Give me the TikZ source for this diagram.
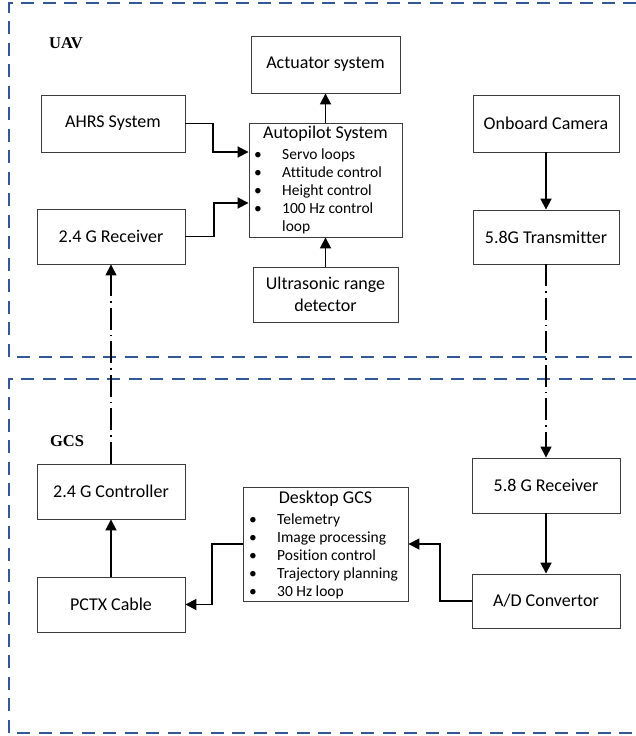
\documentclass[tikz,border=0pt]{standalone}
\usepackage{fontspec}
\setmainfont[Ligatures=CommonOff]{Carlito}
\newfontfamily\labelfont{Liberation Serif}
\usetikzlibrary{arrows.meta}
\definecolor{framecol}{RGB}{52,88,150}
\definecolor{boxline}{RGB}{60,60,60}
\tikzset{
  box/.style={draw=boxline, line width=0.9pt, inner sep=0pt, align=center,
    font=\fontsize{18}{22}\selectfont},
  frame/.style={draw=framecol, line width=1.6pt, dash pattern=on 13pt off 8.5pt},
  arr/.style={draw=black, line width=1.8pt, -{Triangle[length=11pt,width=11pt]}},
  radio/.style={arr, line width=1.5pt, dash pattern=on 22pt off 5pt on 1.5pt off 5pt},
  grouplabel/.style={font=\labelfont\bfseries\fontsize{16.5}{18}\selectfont},
  title/.style={font=\fontsize{18}{22}\selectfont, inner sep=0pt},
  itemtext/.style={anchor=base west, font=\fontsize{15.5}{18}\selectfont, inner sep=0pt},
  bul/.style={anchor=base, font=\fontsize{15.5}{18}\selectfont, inner sep=0pt},
}
\begin{document}
\begin{tikzpicture}[x=1pt, y=-1pt]
\useasboundingbox (0,0) rectangle (636,736);

% group frames
\draw[frame] (636,3) -- (9,3) -- (9,357) -- (636,357);
\draw[frame] (636,379) -- (9,379) -- (9,733) -- (636,733);
\node[grouplabel] (uavlbl) at (66,43) {UAV};
\node[grouplabel] (gcslbl) at (67,441) {GCS};

% UAV blocks
\node[box, minimum width=149pt, minimum height=57pt] (act) at (325.5,64.5) {Actuator system};
\node[box, minimum width=144pt, minimum height=57pt] (ahrs) at (113,123.5) {AHRS System};
\node[box, minimum width=153pt, minimum height=114pt] (auto) at (325.5,180) {};
\node[box, minimum width=145pt, minimum height=55pt] (ultra) at (325.5,294.5) {Ultrasonic range\\detector};
\node[box, minimum width=148pt, minimum height=55pt] (rx24) at (111,236.5) {2.4 G Receiver};
\node[box, minimum width=146pt, minimum height=57pt] (cam) at (546,123.5) {Onboard Camera};
\node[box, minimum width=146pt, minimum height=54pt] (tx58) at (546,237) {5.8G Transmitter};

% autopilot contents
\node[title] (autot) at (325.5,134) {Autopilot System};
\foreach \y/\t [count=\i] in {159/Servo loops, 177/Attitude control, 195/Height control, 213/100 Hz control}{
  \node[bul] (ab\i) at (258,\y) {•};
  \node[itemtext] (ai\i) at (282,\y) {\t};
}
\node[itemtext] (ai5) at (282,231) {loop};

% GCS blocks
\node[box, minimum width=148pt, minimum height=55pt] (ctrl24) at (111,491.5) {2.4 G Controller};
\node[box, minimum width=148pt, minimum height=55pt] (pctx) at (111,604.5) {PCTX Cable};
\node[box, minimum width=165pt, minimum height=114pt] (desk) at (325.5,544) {};
\node[box, minimum width=148pt, minimum height=55pt] (rx58) at (546,485.5) {5.8 G Receiver};
\node[box, minimum width=148pt, minimum height=54pt] (adc) at (546,601) {A/D Convertor};

% desktop GCS contents
\node[title] (deskt) at (325.5,499) {Desktop GCS};
\foreach \y/\t [count=\i] in {524/Telemetry, 542/Image processing, 560/Position control, 578/Trajectory planning, 596/30 Hz loop}{
  \node[bul] (db\i) at (253,\y) {•};
  \node[itemtext] (di\i) at (277,\y) {\t};
}

% wired links
\draw[arr] (ahrs.east) -- (213,123.5) -- (213,152) -- (auto.west |- 0,152);
\draw[arr] (rx24.east) -- (214,236.5) -- (214,203) -- (auto.west |- 0,203);
\draw[arr] (auto.north) -- (act.south);
\draw[arr] (ultra.north) -- (auto.south);
\draw[arr] (cam.south) -- (tx58.north);
\draw[arr] (pctx.north) -- (ctrl24.south);
\draw[arr] (rx58.south) -- (adc.north);
\draw[arr] (adc.west) -- (440,601) -- (440,544) -- (desk.east);
\draw[arr] (desk.west) -- (212,544) -- (212,604.5) -- (pctx.east);

% radio links
\draw[radio] (tx58.south) -- (rx58.north);
\draw[radio] (ctrl24.north) -- (rx24.south);
\end{tikzpicture}
\end{document}
